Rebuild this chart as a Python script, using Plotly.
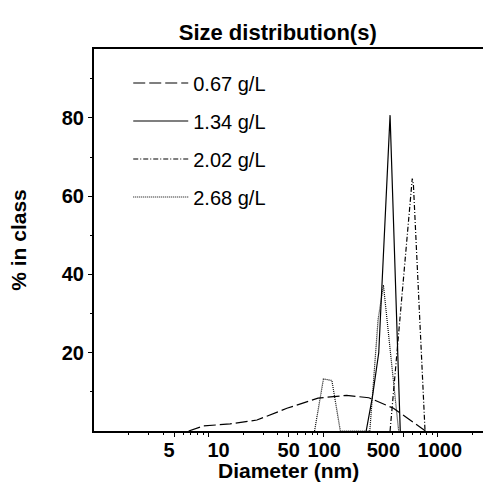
import plotly.graph_objects as go

# Data (diameter in nm, % in class)
d_067 = [6.7, 9.0, 15.4, 26.4, 48.2, 90.0, 160.0, 250.0, 410.0, 650.0, 780.0]
p_067 = [0.0, 1.3, 1.8, 2.8, 5.8, 8.4, 9.1, 8.5, 5.8, 1.5, 0.0]

d_134 = [237.0, 268.0, 305.0, 383.0, 470.0]
p_134 = [0.0, 8.5, 20.0, 80.7, 0.0]

d_202 = [383.0, 598.0, 612.0, 773.0]
p_202 = [0.0, 64.5, 63.0, 0.0]

d_268 = [84.0, 100.4, 119.0, 141.0, 255.0, 283.0, 301.0, 335.0, 368.0, 438.0, 455.0]
p_268 = [0.0, 13.3, 12.9, 0.0, 0.0, 17.4, 28.4, 37.3, 25.8, 5.9, 0.0]

labels = ["0.67 g/L", "1.34 g/L", "2.02 g/L", "2.68 g/L"]
dashes = ["12px,4px", "solid", "5px,2px,1px,2px", "1px,1px"]

x_tickvals = [5, 10, 50, 100, 500, 1000]
x_ticktext = ["5", "10", "50", "100", "500", "1000"]
# the reference software nudges some crowded labels sideways (pixels)
x_label_shift = [-5, 10, 0, 1, -20, 2]
x_minor = [2, 3, 4, 6, 7, 8, 9, 20, 30, 40, 60, 70, 80, 90, 200, 300, 400, 600, 700, 800, 900, 2000]
y_tickvals = [20, 40, 60, 80]
y_minor = [10, 30, 50, 70, 90]

FONT = "Liberation Sans, Arial, sans-serif"
XRANGE = [0, 3.394]

fig = go.Figure()
series = [(d_067, p_067), (d_134, p_134), (d_202, p_202), (d_268, p_268)]
for i, ((xs, ys), lab, dsh) in enumerate(zip(series, labels, dashes)):
    fig.add_trace(go.Scatter(
        x=xs, y=ys, mode="lines", name=lab, legendgroup=str(i),
        line=dict(color="black", width=1.2, dash=dsh),
    ))

fig.update_layout(
    width=483, height=490,
    margin=dict(l=94, r=0, t=49, b=59),
    paper_bgcolor="white", plot_bgcolor="white",
    font=dict(family=FONT, color="black", size=20),
    title=dict(text="<b>Size distribution(s)</b>", x=0.575, xanchor="center",
               y=0.935, yanchor="middle", font=dict(size=22)),
    showlegend=True,
    legend=dict(x=0.088, y=0.962, xanchor="left", yanchor="top",
                bgcolor="rgba(0,0,0,0)", font=dict(size=20),
                itemwidth=55, tracegroupgap=9),
)

# main x axis: line, tick marks, minor ticks (labels drawn by overlay axes below)
fig.update_xaxes(
    type="log", range=XRANGE, automargin=False,
    tickmode="array", tickvals=x_tickvals, ticktext=[""] * len(x_tickvals), tickangle=0,
    ticks="outside", ticklen=4, tickcolor="black",
    minor=dict(tickvals=x_minor, ticks="outside", ticklen=2, tickcolor="black"),
    showline=True, linecolor="black", linewidth=2, mirror=True,
    showgrid=False, zeroline=False,
)

# label-only overlay axes, one per label, so each label can be nudged like the reference
for k, (v, t, s) in enumerate(zip(x_tickvals, x_ticktext, x_label_shift)):
    ax_id = "x%d" % (k + 2)
    fig.add_trace(go.Scatter(
        x=[v], y=[0], xaxis=ax_id, yaxis="y", mode="markers",
        marker=dict(opacity=0, size=1), showlegend=False, hoverinfo="skip",
    ))
    fig.update_layout(**{"xaxis%d" % (k + 2): dict(
        type="log", range=XRANGE, overlaying="x", side="bottom", anchor="y",
        automargin=False, tickmode="array", tickvals=[v], ticktext=[t], tickangle=0,
        ticks="", ticklabelshift=s, ticklabelstandoff=5,
        tickfont=dict(size=20, family=FONT, weight="bold"),
        showline=False, showgrid=False, zeroline=False,
    )})

fig.add_annotation(
    text="<b>Diameter (nm)</b>", xref="paper", yref="paper",
    x=0.5, y=-0.104, xanchor="center", yanchor="middle",
    showarrow=False, font=dict(size=21),
)

fig.update_yaxes(
    range=[0, 97.6], automargin=False,
    tickmode="array", tickvals=y_tickvals,
    tickfont=dict(size=20, family=FONT, weight="bold"),
    ticks="outside", ticklen=4, tickcolor="black",
    minor=dict(tickvals=y_minor, ticks="outside", ticklen=2, tickcolor="black"),
    showline=True, linecolor="black", linewidth=2, mirror=False,
    showgrid=False, zeroline=False,
    title=dict(text="<b>% in class</b>", font=dict(size=21), standoff=29),
)

fig.write_html("out.html")
